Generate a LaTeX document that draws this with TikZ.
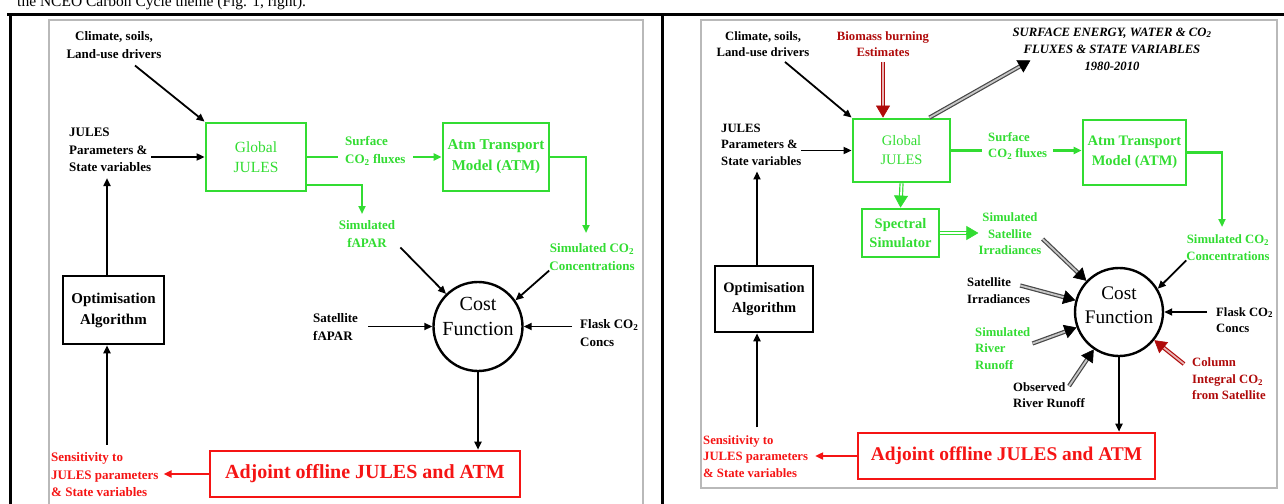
\documentclass[tikz,border=0pt]{standalone}
\usepackage{fontspec}
\setmainfont{Liberation Serif}
\usetikzlibrary{arrows.meta,calc}
\definecolor{gr}{RGB}{50,220,50}
\definecolor{rd}{RGB}{245,20,20}
\definecolor{drd}{RGB}{175,10,10}
\definecolor{frm}{RGB}{185,185,185}
% fat (double-shaft) arrow: #1 kind (k,g,r), #2 start, #3 end, #4 name
\newcommand{\fatarrow}[4]{%
  \path #2 -- #3 coordinate[pos=0] (#4s) coordinate[pos=1] (#4e);
  \draw[fat#1] (#4s) -- ($(#4e)!10pt!(#4s)$);
  \draw[head#1] ($(#4e)!12pt!(#4s)$) -- (#4e);}
\begin{document}
\begin{tikzpicture}[x=1pt,y=-1pt,
  lbl/.style={inner sep=0pt, font=\fontsize{13}{17.5}\selectfont\bfseries, align=center},
  lbll/.style={lbl, align=left},
  glbl/.style={lbl, text=gr},
  glbll/.style={lbll, text=gr},
  rlbll/.style={lbll, text=rd},
  lblb/.style={inner sep=0pt, font=\fontsize{12.7}{16.5}\selectfont\bfseries, align=center},
  lblbl/.style={lblb, align=left},
  glblb/.style={lblb, text=gr},
  glblbl/.style={lblbl, text=gr},
  rlblbl/.style={lblbl, text=rd},
  dlblb/.style={lblb, text=drd},
  dlblbl/.style={lblbl, text=drd},
  gbox/.style={draw=gr, line width=2.8pt, inner sep=0pt, text=gr, align=center},
  kbox/.style={draw=black, line width=2.6pt, inner sep=0pt, align=center},
  rbox/.style={draw=rd, line width=2.6pt, inner sep=0pt, text=rd, align=center},
  costc/.style={circle, draw=black, line width=2.4pt, inner sep=0pt},
  costt/.style={inner sep=0pt, align=center},
  arr/.style={draw=black, line width=1.8pt, -{Triangle[length=8pt,width=7pt]}},
  garr/.style={draw=gr, line width=2.2pt, -{Triangle[length=8pt,width=7pt]}},
  rarr/.style={draw=rd, line width=2pt, -{Triangle[length=8pt,width=7pt]}},
  fatshaft/.style 2 args={draw=#1, double=#2, double distance=1.8pt, line width=1.2pt},
  fatk/.style={fatshaft={black!72}{black!22}},
  fatg/.style={fatshaft={gr}{white}},
  fatr/.style={fatshaft={drd}{drd!30}},
  fathead/.style={draw=#1, line width=0.6pt, -{Triangle[length=12pt,width=14pt]}},
  headk/.style={fathead=black},
  headg/.style={fathead=gr},
  headr/.style={fathead=drd},
  frame/.style={draw=frm, line width=1.8pt},
  tab/.style={draw=black, line width=3pt}
]
\useasboundingbox (0,0) rectangle (1284,503);

% caption line and table rules
\node[anchor=base west, inner sep=0pt, font=\fontsize{15.5}{18}\selectfont] (cap) at (17,7) {the NCEO Carbon Cycle theme (Fig. 1, right).};
\draw[tab] (7,15) -- (1290,15);
\draw[tab] (10,13.5) -- (10,510);
\draw[tab] (662.5,13.5) -- (662.5,510);
\draw[frame] (49,20) rectangle (643,520);
\draw[frame] (701,20) rectangle (1277,488);

% ================= LEFT PANEL =================
\node[lbl] (climL) at (114,45) {Climate, soils,\\Land-use drivers};
\node[gbox, minimum width=100pt, minimum height=68pt, font=\fontsize{15.5}{20.5}\selectfont] (gjL) at (256,157) {Global\\JULES};
\node[lbll, anchor=west] (parL) at (69,150) {JULES\\Parameters \&\\State variables};
\node[gbox, minimum width=106pt, minimum height=68pt, font=\fontsize{15}{21}\selectfont\bfseries] (atmL) at (496,157) {Atm Transport\\Model (ATM)};
\draw[arr] ($(climL.south)+(21,7)$) -- (gjL.north west);
\draw[arr] (gjL.west -| parL.east) -- (gjL.west);
\draw[garr] (gjL.east) -- (atmL.west);
\node[glbll, fill=white, inner xsep=7pt, anchor=west] (sfL) at (338,151) {Surface\\CO\textsubscript{2} fluxes};

\node[glbl] (simFL) at (367,234) {Simulated\\fAPAR};
\coordinate (cFL) at (362,214);
\draw[garr] ([yshift=-28pt]gjL.east) -| (cFL);

\node[costc, minimum size=89pt] (costL) at (478,326.5) {};
\node[costt, font=\fontsize{20}{25}\selectfont] (costLt) at (478,316) {Cost\\Function};
\draw[arr] ($(simFL.south east)+(5,0)$) -- (costL);

\node[lbll, anchor=west] (satL) at (313,327) {Satellite\\fAPAR};
\draw[arr] ($(satL.east |- costL.west)+(10,0)$) -- (costL.west);

\node[lbll, anchor=west] (flL) at (580,333) {Flask CO\textsubscript{2}\\Concs};
\draw[arr] ($(flL.west |- costL.east)+(-8,0)$) -- (costL.east);

\node[glbl] (scL) at (592,257) {Simulated CO\textsubscript{2}\\Concentrations};
\coordinate (cCL) at (586,233);
\draw[garr] (atmL.east) -| (cCL);
\draw[arr] (scL.south west) -- (costL.35);

\node[rbox, minimum width=310pt, minimum height=46pt, font=\fontsize{20}{24}\selectfont\bfseries] (adjL) at (365,474) {Adjoint offline JULES and ATM};
\draw[arr] (costL.south) -- (costL.south |- adjL.north);
\node[rlbll, anchor=west] (senL) at (51,475) {Sensitivity to\\JULES parameters\\\& State variables};
\draw[rarr] (adjL.west) -- ($(senL.east |- adjL.west)+(5,0)$);

\node[kbox, minimum width=101pt, minimum height=68pt, font=\fontsize{15}{21}\selectfont\bfseries] (optL) at (113.5,310) {Optimisation\\Algorithm};
\coordinate (axL) at (107,0);
\draw[arr] ($(axL |- senL.north)+(0,-8)$) -- (axL |- optL.south);
\draw[arr] (axL |- optL.north) -- ($(axL |- parL.south)+(0,6)$);

% ================= RIGHT PANEL =================
\node[lblb] (climR) at (763,44) {Climate, soils,\\Land-use drivers};
\node[dlblb] (bioR) at (883,44) {Biomass burning\\Estimates};
\node[gbox, minimum width=97pt, minimum height=63pt, font=\fontsize{14.5}{19}\selectfont] (gjR) at (901.5,150.5) {Global\\JULES};
\draw[arr] ($(climR.south)+(22,5)$) -- (gjR.north west);
\fatarrow{r}{($(bioR.south)+(0,5)$)}{(bioR.south |- gjR.north)}{fa1}
\node[lblbl, anchor=west] (parR) at (721,144.5) {JULES\\Parameters \&\\State variables};
\draw[arr] (gjR.west -| parR.east) -- (gjR.west);

\node[inner sep=0pt, font=\fontsize{12.7}{17}\selectfont\bfseries\itshape, align=center] (surR) at (1112,49) {SURFACE ENERGY, WATER \& CO\textsubscript{2}\\FLUXES \& STATE VARIABLES\\1980-2010};
\fatarrow{k}{($(gjR.north east)+(-22,0)$)}{($(surR.south west)+(18,-10)$)}{fa2}

\node[gbox, minimum width=103pt, minimum height=65pt, font=\fontsize{14.5}{20}\selectfont\bfseries] (atmR) at (1134.5,152.5) {Atm Transport\\Model (ATM)};
\draw[garr] (gjR.east) -- (gjR.east -| atmR.west);
\node[glblbl, fill=white, inner xsep=6pt, anchor=west] (sfR) at (982,146) {Surface\\CO\textsubscript{2} fluxes};

\node[gbox, minimum width=77pt, minimum height=48pt, font=\fontsize{14.5}{18.5}\selectfont\bfseries] (spR) at (900.5,233) {Spectral\\Simulator};
\fatarrow{g}{(gjR.south)}{(spR.north)}{fa3}
\node[glblb] (ssR) at (1010,234) {Simulated\\Satellite\\Irradiances};
\fatarrow{g}{(spR.east)}{(spR.east -| ssR.west)}{fa4}

\node[costc, minimum size=88pt] (costR) at (1119,312) {};
\node[costt, font=\fontsize{19.2}{24}\selectfont] (costRt) at (1119,305) {Cost\\Function};
\fatarrow{k}{($(ssR.east)+(1,5)$)}{(costR)}{fa5}

\node[lblbl, anchor=west] (siR) at (967,290.5) {Satellite\\Irradiances};
\fatarrow{k}{($(siR.east)+(-10,-5)$)}{(costR)}{fa6}
\node[glblbl, anchor=west] (srR) at (975,348.5) {Simulated\\River\\Runoff};
\fatarrow{k}{($(srR.east)+(2,-5)$)}{(costR)}{fa7}
\node[lblbl, anchor=west] (obR) at (1013,395) {Observed\\River Runoff};
\fatarrow{k}{($(obR.north east)+(-16,4)$)}{(costR)}{fa8}

\node[glblb] (scR) at (1228,247.5) {Simulated CO\textsubscript{2}\\Concentrations};
\coordinate (cCR) at (1222,227);
\draw[garr] (atmR.east) -| (cCR);
\draw[arr] (scR.south west) -- (costR.31);

\node[lblbl, anchor=west] (flR) at (1216,320) {Flask CO\textsubscript{2}\\Concs};
\draw[arr] ($(flR.west |- costR.east)+(-9,0)$) -- (costR.east);

\node[dlblbl, anchor=west] (coR) at (1192,379) {Column\\Integral CO\textsubscript{2}\\from Satellite};
\fatarrow{r}{($(coR.west)+(-8,-15)$)}{(costR)}{fa9}

\node[rbox, minimum width=297pt, minimum height=46pt, font=\fontsize{19.4}{24}\selectfont\bfseries] (adjR) at (1006.5,456) {Adjoint offline JULES and ATM};
\draw[arr] (costR.south) -- (costR.south |- adjR.north);
\node[rlblbl, anchor=west] (senR) at (703,456.5) {Sensitivity to\\JULES parameters\\\& State variables};
\draw[rarr] (adjR.west) -- ($(senR.east |- adjR.west)+(7,0)$);

\node[kbox, minimum width=98pt, minimum height=66pt, font=\fontsize{14.5}{19.5}\selectfont\bfseries] (optR) at (764,299) {Optimisation\\Algorithm};
\coordinate (axR) at (757,0);
\draw[arr] ($(axR |- senR.north)+(0,-8)$) -- (axR |- optR.south);
\draw[arr] (axR |- optR.north) -- ($(axR |- parR.south)+(0,6)$);
\end{tikzpicture}
\end{document}
